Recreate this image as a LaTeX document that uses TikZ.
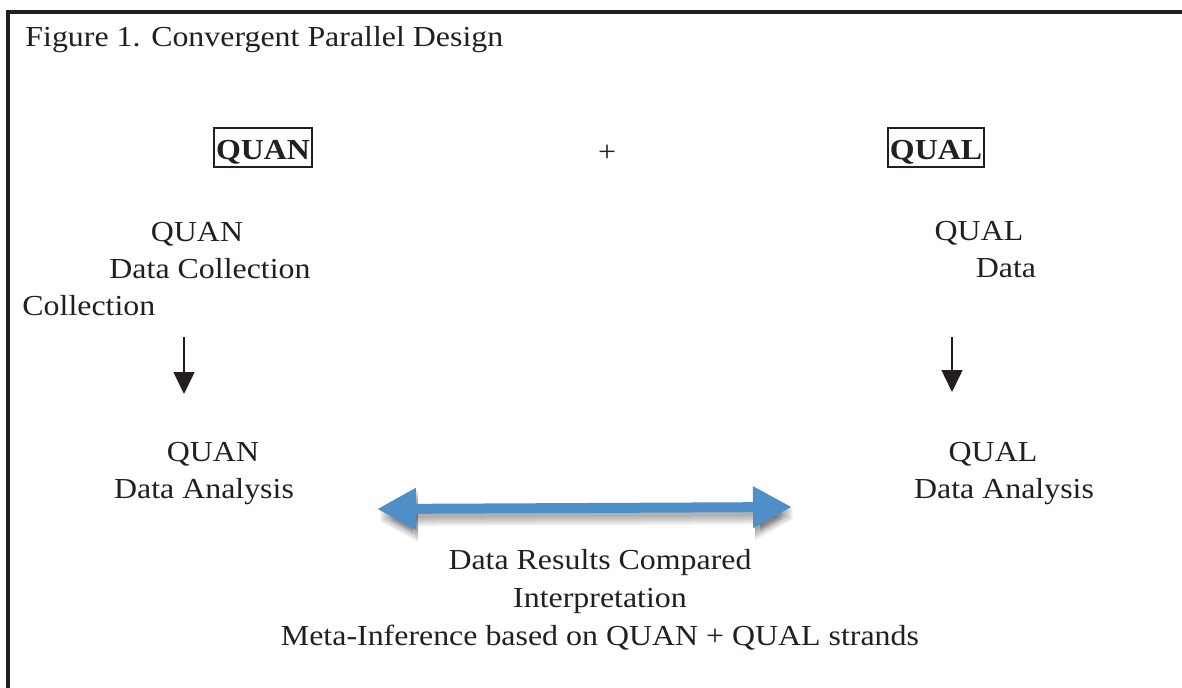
\documentclass[tikz,border=0pt]{standalone}
\usepackage{fontspec}
\setmainfont{Liberation Serif}
\usepackage{color}
\usetikzlibrary{arrows.meta}
\definecolor{inkblack}{HTML}{231F20}
\definecolor{arrowblue}{HTML}{4F8FC8}

\begin{document}
\begin{tikzpicture}[x=0.5pt,y=-0.5pt,
	txt/.style={font=\fontsize{14.5}{17}\selectfont,text=inkblack,inner sep=0pt,xscale=1.1,transform shape},
	boxed/.style={txt,font=\fontsize{14.5}{17}\selectfont\bfseries,draw=inkblack,line width=1pt,inner xsep=1pt,text height=15.5pt,text depth=4pt},
	down/.style={draw=inkblack,line width=0.75pt,-{Triangle[width=10.5pt,length=11pt]}},
	both/.style={line width=5pt,{Triangle[width=19.5pt,length=19.5pt]}-{Triangle[width=19.5pt,length=19.5pt]}},
	shade/.style={both,black,opacity=0.07}]
		\useasboundingbox (0,0) rectangle (1182,687);
		\draw[inkblack,line width=2pt] (8,700) -- (8,12) -- (1195,12);
		\node[txt,anchor=base west] (title) at (25,46) {Figure 1. Convergent Parallel Design};
		\node[boxed,anchor=base] (quanbox) at (263,159) {QUAN};
		\node[txt,anchor=base] (plus) at (607,161) {+};
		\node[boxed,anchor=base] (qualbox) at (936,159) {QUAL};
		\node[txt,anchor=base] (quan1) at (197,241) {QUAN};
		\node[txt,anchor=base] (quancoll) at (210,278) {Data Collection};
		\node[txt,anchor=base west] (coll) at (22,315) {Collection};
		\node[txt,anchor=base] (qual1) at (979,240) {QUAL};
		\node[txt,anchor=base] (qualdata) at (1006,277) {Data};
		\node[txt,anchor=base] (quan2) at (213,461) {QUAN};
		\node[txt,anchor=base] (quanan) at (204,498) {Data Analysis};
		\node[txt,anchor=base] (qual2) at (993,461) {QUAL};
		\node[txt,anchor=base] (qualan) at (1004,498) {Data Analysis};
		\node[txt,anchor=base] (res) at (600,569) {Data Results Compared};
		\node[txt,anchor=base] (interp) at (600,607) {Interpretation};
		\node[txt,anchor=base] (meta) at (600,645) {Meta-Inference based on QUAN + QUAL strands};
		% down arrows
		\coordinate (a1) at (184,337);
		\coordinate (b1) at (184,394);
		\coordinate (a2) at (952,337);
		\coordinate (b2) at (952,392);
		\draw[down] (a1) -- (b1);
		\draw[down] (a2) -- (b2);
		% comparison arrow with a soft shadow
		\coordinate (l) at (377,509);
		\coordinate (r) at (792,507);
		\foreach \dy in {2,4,...,12}
			\draw[shade] ([shift={(2,\dy)}]l) -- ([shift={(2,\dy)}]r);
		\draw[both,arrowblue] (l) -- (r);
\end{tikzpicture}
\end{document}
